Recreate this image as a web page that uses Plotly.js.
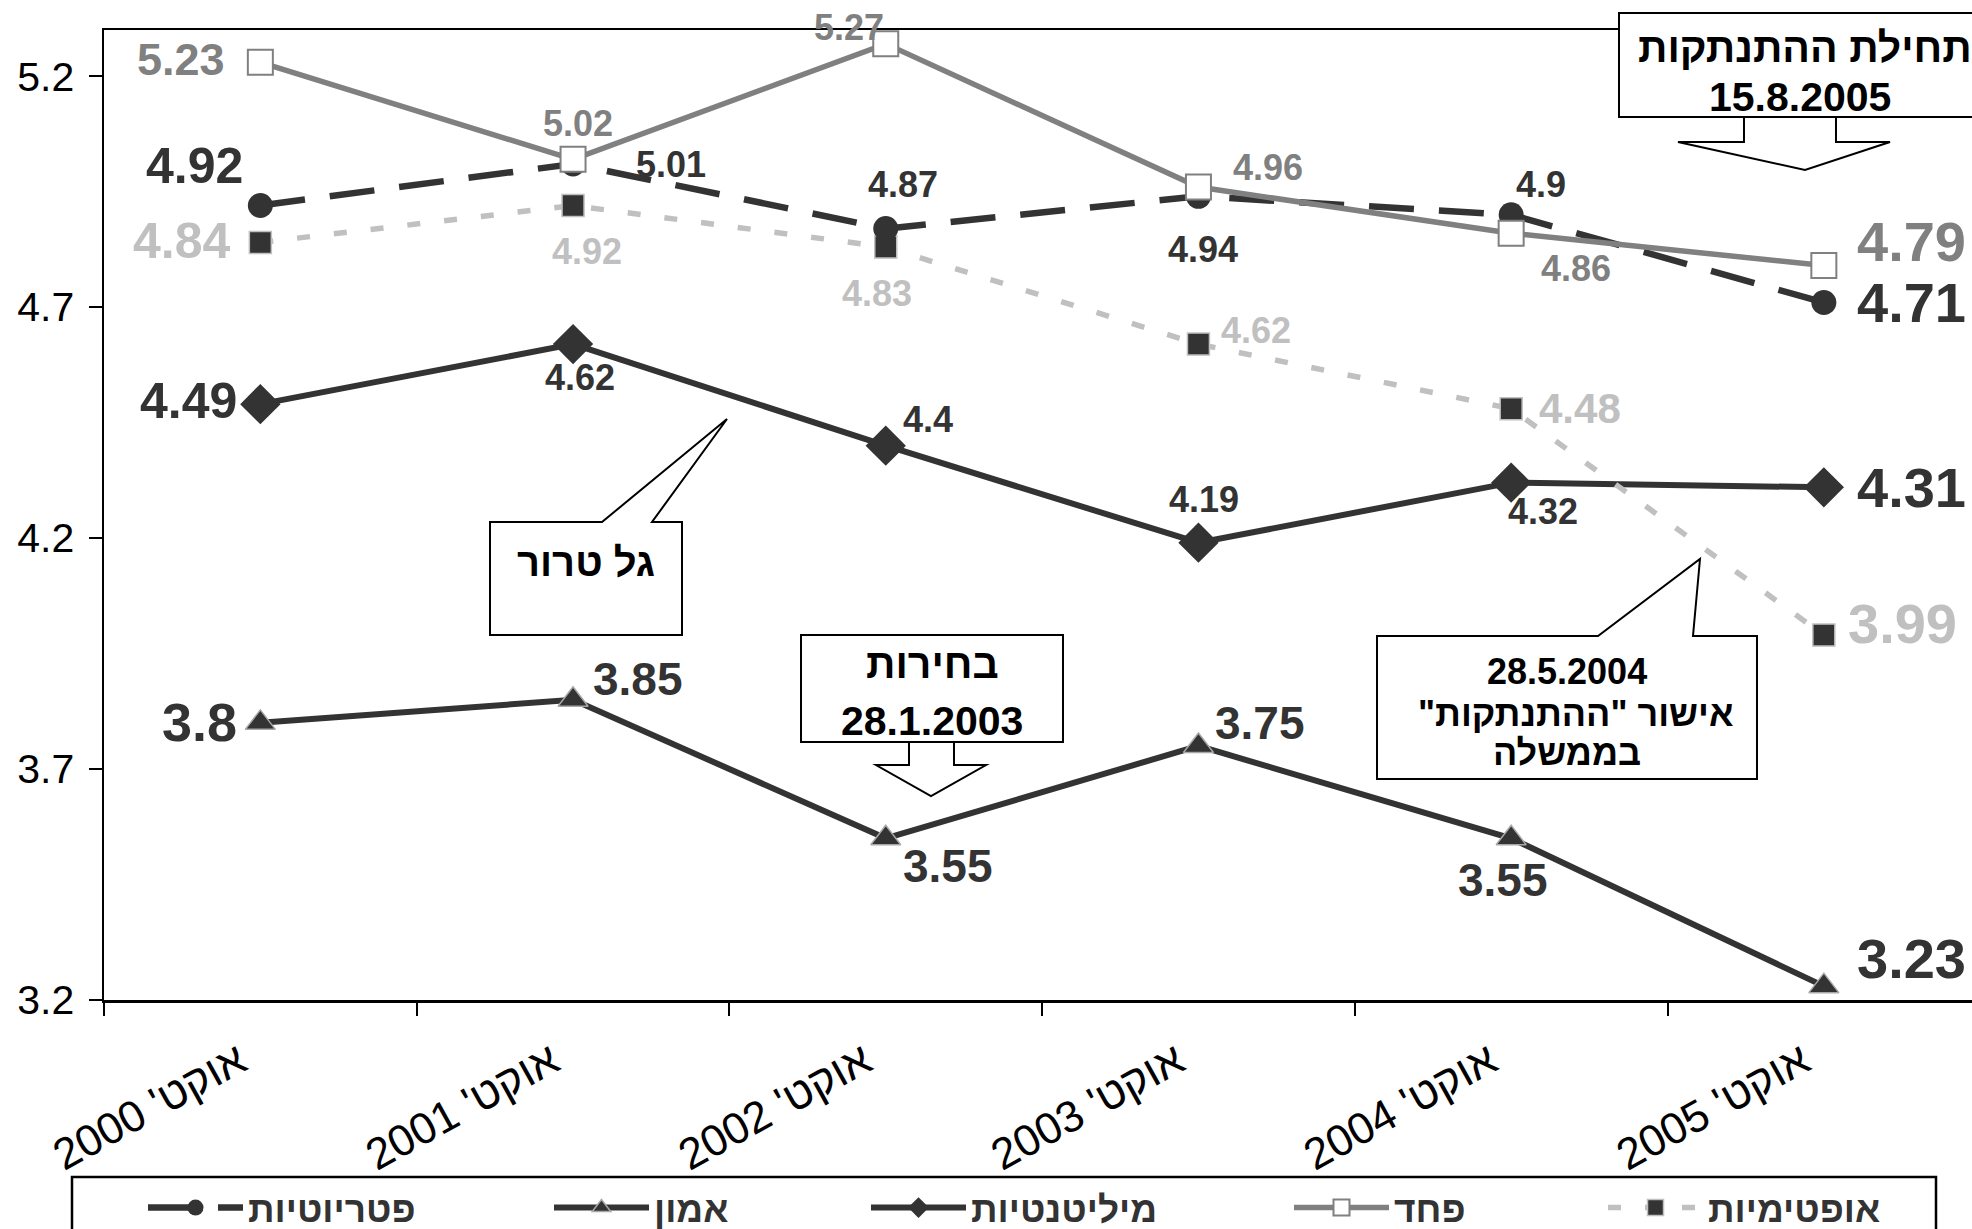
<!DOCTYPE html>
<html>
<head>
<meta charset="utf-8">
<script src="https://cdn.plot.ly/plotly-3.0.1.min.js"></script>
<style>html,body{margin:0;padding:0;background:#fff;overflow:hidden}</style>
</head>
<body>
<div id="chart" style="width:1972px;height:1229px"></div>
<script>
// ---------------- data ----------------
const categories = ["אוקט' 2000", "אוקט' 2001", "אוקט' 2002", "אוקט' 2003", "אוקט' 2004", "אוקט' 2005"];
const optimism   = [4.84, 4.92, 4.83, 4.62, 4.48, 3.99];   // אופטימיות
const fear       = [5.23, 5.02, 5.27, 4.96, 4.86, 4.79];   // פחד
const militancy  = [4.49, 4.62, 4.40, 4.19, 4.32, 4.31];   // מיליטנטיות
const trust      = [3.80, 3.85, 3.55, 3.75, 3.55, 3.23];   // אמון
const patriotism = [4.92, 5.01, 4.87, 4.94, 4.90, 4.71];   // פטריוטיות
const yTicks = [3.2, 3.7, 4.2, 4.7, 5.2];

// ---------------- geometry / style ----------------
const W = 1972, H = 1229;
const M = {l: 104, r: 0, t: 30, b: 229};
const PW = W - M.l - M.r, PH = H - M.t - M.b;
const px = x => (x - M.l) / PW;
const py = y => (H - M.b - y) / PH;

const DARK = '#333333', MID = '#808080', LIGHT = '#c0c0c0';
const FONT = 'Liberation Sans, Arial, sans-serif';
const NB = '\u00A0';

// label placement: [xanchor, dx(px), dy(px, down), font size]
const place = {
  fear:       [['right',-33,-3,45],['center',5,-36,36],['center',-37,-16,36],['left',33,-20,36],['center',65,35,36],['left',31,-24,56]],
  patriotism: [['right',-15,-40,50],['center',98,1,36],['center',17,-44,36],['center',5,53,36],['center',30,-30,36],['left',31,0,56]],
  optimism:   [['right',-27,-1,50],['center',14,46,36],['center',-9,46,36],['left',21,-14,36],['left',26,0,42],['left',22,-12,56]],
  militancy:  [['right',-21,-3,50],['center',7,33,36],['center',42,-26,36],['center',6,-43,36],['center',32,29,36],['left',31,0,56]],
  trust:      [['right',-21,-1,54],['center',65,-21,46],['center',62,28,46],['center',62,-23,46],['center',-8,42,46],['left',31,-28,56]]
};

const series = [
  {key:'trust', name:'אמון', y: trust, line:{color:DARK, width:6, dash:'solid'},
   marker:{symbol:'triangle-up', size:26, color:DARK, line:{color:'#a8a8a8', width:1.5}}, lc: DARK, legend:'legend2', lx:549},
  {key:'militancy', name:'מיליטנטיות', y: militancy, line:{color:DARK, width:6, dash:'solid'},
   marker:{symbol:'diamond', size:31, color:DARK, line:{color:DARK, width:0}}, lc: DARK, legend:'legend3', lx:866},
  {key:'optimism', name:'אופטימיות', y: optimism, line:{color:LIGHT, width:5.5, dash:'13px,24px'},
   marker:{symbol:'square', size:22, color:DARK, line:{color:LIGHT, width:1.5}}, lc: LIGHT, legend:'legend5', lx:1603},
  {key:'patriotism', name:'פטריוטיות', y: patriotism, line:{color:DARK, width:6.5, dash:'45px,25px'},
   marker:{symbol:'circle', size:25, color:DARK, line:{color:DARK, width:0}}, lc: DARK, legend:'legend', lx:143},
  {key:'fear', name:'פחד', y: fear, line:{color:MID, width:5.5, dash:'solid'},
   marker:{symbol:'square', size:25, color:'#ffffff', line:{color:MID, width:2}}, lc: MID, legend:'legend4', lx:1289}
];

const traces = series.map(s => ({
  type:'scatter', mode:'lines+markers', x: categories, y: s.y, name: s.name,
  line: s.line, marker: s.marker, legend: s.legend, cliponaxis:false, hoverinfo:'skip'
}));

// data labels
const annotations = [];
series.forEach(s => {
  s.y.forEach((v, i) => {
    const p = place[s.key][i];
    annotations.push({
      x: categories[i], y: v, xref:'x', yref:'y', text: String(v), showarrow:false,
      xanchor: p[0], yanchor:'middle', xshift: p[1], yshift: -p[2],
      font:{family:FONT, size:p[3], color:s.lc, weight:'bold'}
    });
  });
});

// callout texts
function txt(t, x, y, size) {
  annotations.push({xref:'paper', yref:'paper', x:px(x), y:py(y), text:t, showarrow:false,
    xanchor:'center', yanchor:'middle', font:{family:FONT, size:size, color:'#000', weight:'bold'}});
}
txt('גל טרור', 586, 562, 40);
txt('בחירות', 932, 664, 41);
txt('28.1.2003', 932, 721, 41);
txt('תחילת ההתנתקות', 1805, 48, 41);
txt('15.8.2005', 1800, 97, 41);
txt('28.5.2004', 1567, 671, 36);
txt('\u200Fאישור "ההתנתקות"\u200F', 1576, 714, 36);
txt('בממשלה', 1567, 752, 36);

// callout shapes
function path(pts, close) {
  return pts.map((p, i) => (i ? 'L' : 'M') + px(p[0]).toFixed(5) + ',' + py(p[1]).toFixed(5)).join(' ') + (close ? ' Z' : '');
}
const box = {type:'path', xref:'paper', yref:'paper', fillcolor:'#ffffff', line:{color:'#000', width:2}, layer:'above'};
const shapes = [
  Object.assign({}, box, {path: path([[490,522],[602,522],[727,419],[652,522],[682,522],[682,635],[490,635]], true)}),
  Object.assign({}, box, {path: path([[909,742],[909,765],[876,765],[931,796],[986,765],[954,765],[954,742]], false)}),
  Object.assign({}, box, {path: path([[801,635],[1063,635],[1063,742],[801,742]], true)}),
  Object.assign({}, box, {path: path([[1744,117],[1744,142],[1678,142],[1805,170],[1890,142],[1836,142],[1836,117]], false)}),
  Object.assign({}, box, {path: path([[1619,13],[1995,13],[1995,117],[1619,117]], true)}),
  Object.assign({}, box, {path: path([[1377,636],[1598,636],[1700,559],[1693,636],[1757,636],[1757,779],[1377,779]], true)}),
  // legend frame
  {type:'rect', xref:'paper', yref:'paper', x0:px(72), x1:px(1936), y0:py(1177), y1:py(1260),
   line:{color:'#000', width:2.5}, fillcolor:'rgba(0,0,0,0)', layer:'below'}
];

const legendBase = {orientation:'h', xanchor:'left', yanchor:'top', y: py(1177), itemwidth:95,
  bgcolor:'rgba(0,0,0,0)', borderwidth:0, font:{family:FONT, size:37, color:DARK, weight:'bold'}};
const layout = {
  width: W, height: H, margin: Object.assign({autoexpand:false}, M),
  paper_bgcolor:'#fff', plot_bgcolor:'#fff', showlegend:true,
  xaxis: {type:'category', range:[-0.5, -0.5 + PW/312.7], tickson:'boundaries', ticks:'outside', ticklen:13, tickwidth:2,
          tickcolor:'#000', showline:true, linecolor:'#000', linewidth:2.5, mirror:true, showgrid:false, zeroline:false,
          tickvals: categories, ticktext: categories.map(c => c + NB + NB),
          tickangle:-29, ticklabelstandoff:4, tickfont:{family:FONT, size:44, color:'#000'}, automargin:false, fixedrange:true},
  yaxis: {range:[3.2, 5.3], tickvals:yTicks, ticktext:yTicks.map(v => v.toFixed(1)), ticks:'outside', ticklen:13, tickwidth:2,
          tickcolor:'#000', showline:true, linecolor:'#000', linewidth:2.5, mirror:false, showgrid:false, zeroline:false,
          ticklabelstandoff:6, tickfont:{family:FONT, size:41, color:'#000'}, automargin:false, fixedrange:true},
  annotations: annotations, shapes: shapes
};
series.forEach(s => {
  layout[s.legend] = Object.assign({}, legendBase, {x: px(s.lx)});
});

Plotly.newPlot('chart', traces, layout, {displayModeBar:false, staticPlot:true});
</script>
</body>
</html>
